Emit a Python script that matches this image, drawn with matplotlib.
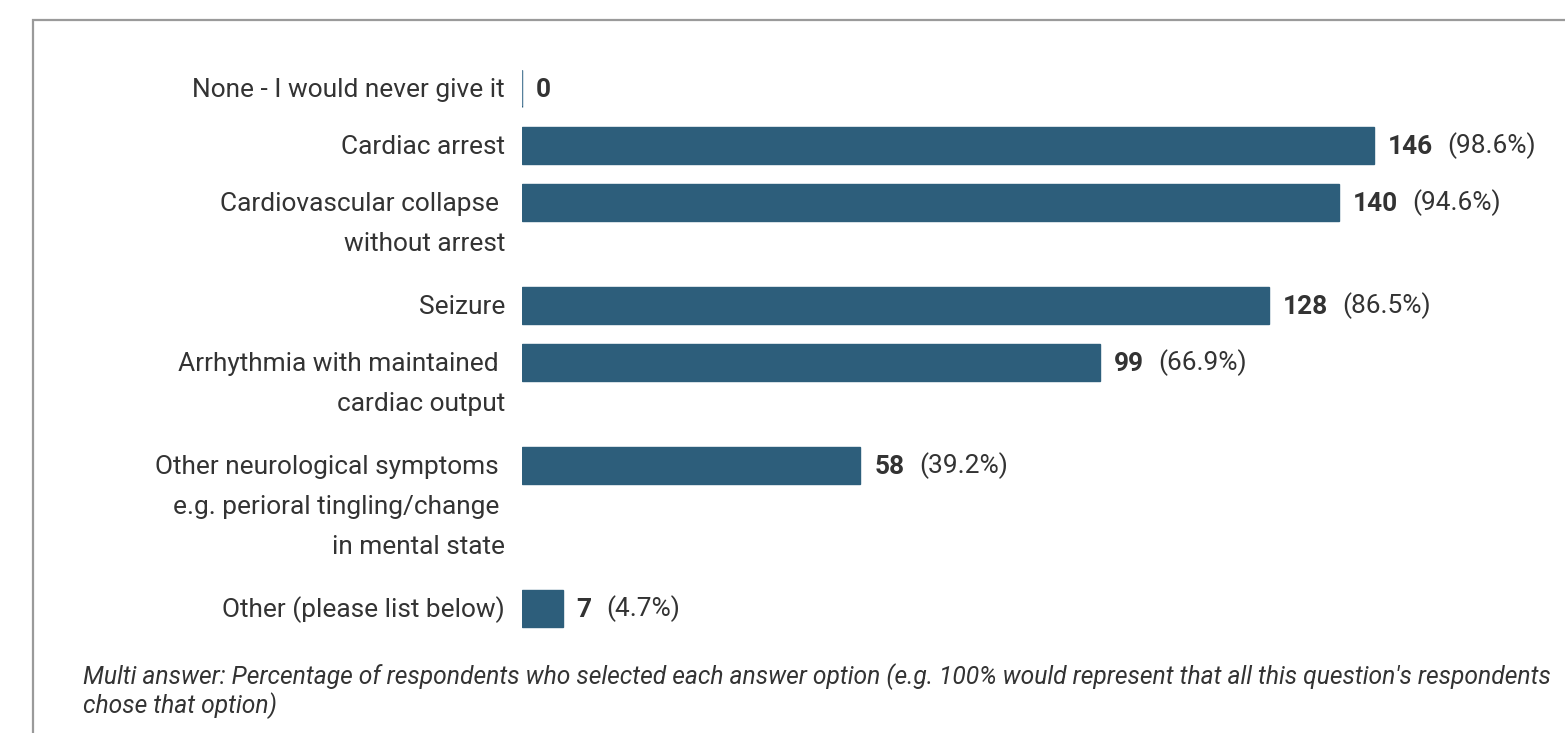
import matplotlib.pyplot as plt
from matplotlib.patches import Rectangle

plt.rcParams["font.family"] = ["Roboto", "DejaVu Sans"]

labels = [
    "None - I would never give it",
    "Cardiac arrest",
    "Cardiovascular collapse\nwithout arrest",
    "Seizure",
    "Arrhythmia with maintained\ncardiac output",
    "Other neurological symptoms\ne.g. perioral tingling/change\nin mental state",
    "Other (please list below)",
]
counts = [0, 146, 140, 128, 99, 58, 7]
percents = [None, 98.6, 94.6, 86.5, 66.9, 39.2, 4.7]
footnote = ("Multi answer: Percentage of respondents who selected each answer option "
            "(e.g. 100% would represent that all this question's respondents\nchose that option)")

BAR = "#2d5e7b"
TEXT = "#333333"
W, H = 1565, 733

fig = plt.figure(figsize=(W / 100, H / 100), dpi=100)
fig.patch.set_facecolor("white")

# outer card border (only top/left edges visible in the frame)
fig.add_artist(Rectangle((33 / W, -0.1), 1.2, 1 - 20 / H + 0.1, transform=fig.transFigure,
                         fill=False, edgecolor="#9a9a9a", linewidth=1.6))

left = 522
px_per_unit = (1374 - left) / 146
ax = fig.add_axes([left / W, 0, 1 - left / W, 1])
ax.set_xlim(0, (W - left) / px_per_unit)
ax.set_ylim(H, 0)  # y in pixels from top
ax.axis("off")

# row centres: wrapped labels make the row taller
ys = []
y = 88
for lab in labels:
    ys.append(y)
    n = lab.count("\n") + 1
    y += 57 if n == 1 else 23 + 40 * n

ax.barh(ys, counts, height=37, color=BAR, edgecolor=BAR, linewidth=1.0)
ax.vlines(0, ys[0] - 18, ys[0] + 18, color="#5f88a3", linewidth=1.2)

fs = 18.9
line_step = 40 * 0.72  # points between wrapped label lines
for yy, lab in zip(ys, labels):
    parts = lab.split("\n")
    for i, part in enumerate(parts):
        dx = -12.2 if i == len(parts) - 1 else -16.5
        ax.annotate(part, xy=(0, yy), xytext=(dx, -6.7 - i * line_step),
                    textcoords="offset points", ha="right", va="baseline",
                    fontsize=fs, color=TEXT)

for yy, c, p in zip(ys, counts, percents):
    t = ax.annotate(str(c), xy=(c, yy), xytext=(10, -6.7), textcoords="offset points",
                    ha="left", va="baseline", fontsize=fs, color=TEXT, fontweight="bold")
    if p is not None:
        ax.annotate(f"({p:.1f}%)", xy=(1, 0), xycoords=t, xytext=(10.5, 0),
                    textcoords="offset points", ha="left", va="bottom",
                    fontsize=fs, color=TEXT)

fig.text(83 / W, 1 - 663 / H, footnote, ha="left", va="top", fontsize=17.7,
         style="italic", color=TEXT, linespacing=1.13)

fig.savefig("out.png", dpi=100, facecolor="white")
